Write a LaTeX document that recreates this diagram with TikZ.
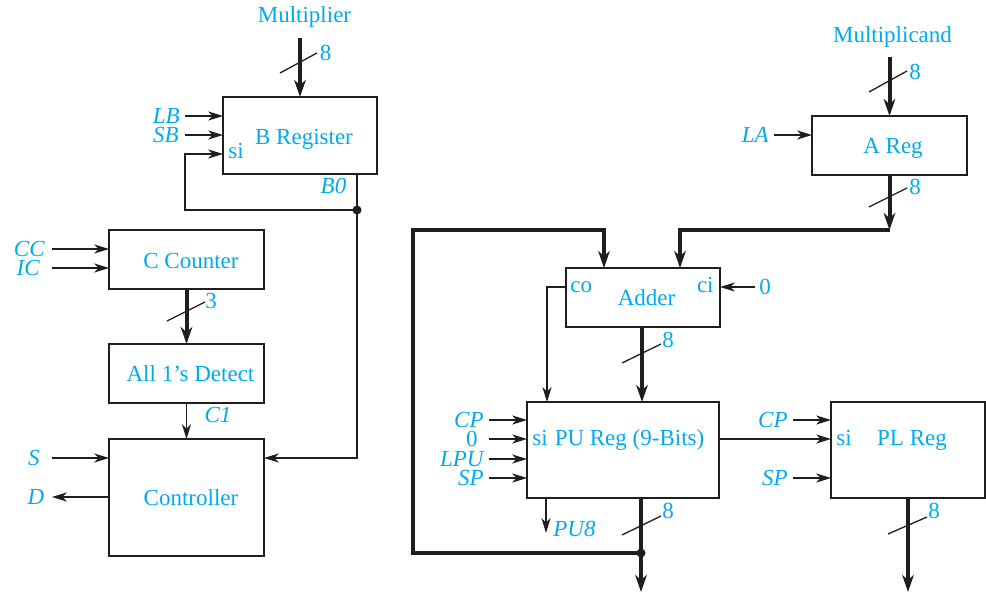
\documentclass[tikz,border=0pt]{standalone}
\usepackage{fontspec}
\setmainfont{Liberation Serif}
\usetikzlibrary{arrows.meta,calc}
\definecolor{txt}{RGB}{0,170,236}
\definecolor{ink}{RGB}{30,30,30}
\begin{document}
\begin{tikzpicture}[x=0.5pt,y=-0.5pt,
  box/.style={draw=ink,line width=1pt,inner sep=0pt,outer sep=0pt},
  lbl/.style={text=txt,font=\fontsize{11.5}{13}\selectfont,inner sep=0pt},
  ilbl/.style={lbl,font=\fontsize{11.5}{13}\selectfont\itshape},
  arr/.style={draw=ink,line width=0.65pt,-{Stealth[length=7.5pt,width=4.6pt,inset=2.4pt]}},
  thinline/.style={draw=ink,line width=0.65pt},
  bus/.style={draw=ink,line width=2pt,-{Stealth[length=8.5pt,width=5.8pt,inset=2.6pt]}},
  busline/.style={draw=ink,line width=2pt},
  slash/.style={draw=ink,line width=0.65pt},
  dotst/.style={fill=ink,circle,inner sep=0pt,minimum size=4.5pt}]
\useasboundingbox (0,0) rectangle (986,594);

% ---------- boxes ----------
\node[box,minimum width=77pt,minimum height=38.5pt] (breg) at (300,135.5) {};
\node[box,minimum width=77.5pt,minimum height=29.5pt] (ccnt) at (186.5,259.5) {};
\node[box,minimum width=77.5pt,minimum height=29.5pt] (all1) at (186.5,373.5) {};
\node[box,minimum width=77.5pt,minimum height=58.5pt] (ctrl) at (186.5,497.5) {};
\node[box,minimum width=77.5pt,minimum height=29.5pt] (areg) at (889.5,145.5) {};
\node[box,minimum width=77pt,minimum height=29.5pt] (adder) at (643,297.5) {};
\node[box,minimum width=96pt,minimum height=48pt] (pureg) at (623,450) {};
\node[box,minimum width=77pt,minimum height=48pt] (plreg) at (908,450) {};

% ---------- box texts ----------
\node[lbl,anchor=base] (tbreg) at (304,144) {B Register};
\node[lbl,anchor=base] (tccnt) at (191,268) {C Counter};
\node[lbl,anchor=base] (tall1) at (190.5,381) {All 1’s Detect};
\node[lbl,anchor=base] (tctrl) at (191,505) {Controller};
\node[lbl,anchor=base] (tareg) at (893,153) {A Reg};
\node[lbl,anchor=base] (tadder) at (646.5,305) {Adder};
\node[lbl,anchor=base] (tpureg) at (629.5,445) {PU Reg (9-Bits)};
\node[lbl,anchor=base] (tplreg) at (912,445) {PL Reg};
\node[lbl,anchor=base west] (sib) at (228,158) {si};
\node[lbl,anchor=base west] (co) at (570,292) {co};
\node[lbl,anchor=base east] (ci) at (714,292) {ci};
\node[lbl,anchor=base west] (sipu) at (532,445) {si};
\node[lbl,anchor=base west] (sipl) at (836,445) {si};

% ---------- top inputs ----------
\node[lbl,anchor=base] (mpl) at (304.5,23) {Multiplier};
\coordinate (mplin) at (300,38);
\draw[bus] (mplin) -- (breg.north);
\draw[slash] (280,73) -- (317,53);
\node[lbl,anchor=base] (n8a) at (325.5,61) {8};

\node[lbl,anchor=base] (mcd) at (892.5,42) {Multiplicand};
\coordinate (mcdin) at (889.5,57);
\draw[bus] (mcdin) -- (areg.north);
\draw[slash] (869,92) -- (907,71);
\node[lbl,anchor=base] (n8b) at (915,79) {8};

% ---------- B register ----------
\node[ilbl,anchor=east] (LB) at (180,116) {LB};
\node[ilbl,anchor=east] (SB) at (179,135) {SB};
\draw[arr] (LB.east -| 185,0) -- (breg.west |- LB.east);
\draw[arr] (SB.east -| 185,0) -- (breg.west |- SB.east);
\coordinate (j1) at (357,210);
\coordinate (fb) at (185,154);
\draw[arr] (j1) -| (fb) -- (breg.west |- fb);
\draw[arr] (breg.south -| j1) |- (ctrl.east |- 0,458);
\node[dotst] (d1) at (j1) {};
\node[ilbl,anchor=base] (B0) at (333.5,193) {B0};

% ---------- C counter / detect / controller ----------
\node[ilbl,anchor=east] (CC) at (45,249) {CC};
\node[ilbl,anchor=east] (IC) at (40,268) {IC};
\draw[arr] (CC.east -| 52,0) -- (ccnt.west |- CC.east);
\draw[arr] (IC.east -| 52,0) -- (ccnt.west |- IC.east);
\draw[bus] (ccnt.south) -- (all1.north);
\draw[slash] (167,321) -- (205,302);
\node[lbl,anchor=base] (n3) at (211,308) {3};
\draw[arr] (all1.south) -- (ctrl.north);
\node[ilbl,anchor=base] (C1) at (218,422) {C1};
\node[ilbl] (S) at (34,458) {S};
\node[ilbl] (D) at (36,497) {D};
\draw[arr] (S.east -| 52,0) -- (ctrl.west |- S.east);
\draw[arr] (ctrl.west |- D.east) -- (D.east -| 52,0);

% ---------- A register ----------
\node[ilbl,anchor=east] (LA) at (769,135) {LA};
\draw[arr] (LA.east -| 774,0) -- (areg.west |- LA.east);
\coordinate (ac) at (889.5,230);
\draw[bus] (areg.south) -- (ac);
\draw[busline] (ac) -- (680,230) -- (680,262);
\draw[bus] (680,250) -- (adder.north -| 680,0);
\draw[slash] (869,207) -- (907,188);
\node[lbl,anchor=base] (n8c) at (915,194) {8};

% ---------- loop from PU output ----------
\coordinate (j2) at (641,553);
\draw[busline] (j2) -- (413,553) -- (413,230) -- (604,230) -- (604,262);
\draw[bus] (604,250) -- (adder.north -| 604,0);

% ---------- adder ----------
\node[lbl] (zero) at (765,287) {0};
\draw[arr] (zero.west -| 755,0) -- (adder.east |- zero.west);
\draw[arr] (adder.west |- 0,287) -| (pureg.north -| 547,0);
\draw[bus] (adder.south -| 642,0) -- (pureg.north -| 642,0);
\draw[slash] (622,363) -- (661,344);
\node[lbl,anchor=base] (n8d) at (668,347) {8};

% ---------- PU register ----------
\node[ilbl,anchor=east] (CPa) at (484,420) {CP};
\node[lbl,anchor=east] (Za) at (478,439) {0};
\node[ilbl,anchor=east] (LPU) at (484,459) {LPU};
\node[ilbl,anchor=east] (SPa) at (484,478) {SP};
\draw[arr] (CPa.east -| 489,0) -- (pureg.west |- CPa.east);
\draw[arr] (Za.east -| 489,0) -- (pureg.west |- Za.east);
\draw[arr] (LPU.east -| 489,0) -- (pureg.west |- LPU.east);
\draw[arr] (SPa.east -| 489,0) -- (pureg.west |- SPa.east);
\coordinate (pu8) at (546,533);
\draw[arr] (pureg.south -| pu8) -- (pu8);
\node[ilbl,anchor=base west] (PU8) at (553,536) {PU8};
\coordinate (puout) at (641,592);
\draw[bus] (pureg.south -| puout) -- (puout);
\node[dotst] (d2) at (j2) {};
\draw[slash] (622,535) -- (661,516);
\node[lbl,anchor=base] (n8e) at (668,518) {8};
\draw[arr] (pureg.east |- 0,439) -- (plreg.west |- 0,439);

% ---------- PL register ----------
\node[ilbl,anchor=east] (CPb) at (788,420) {CP};
\node[ilbl,anchor=east] (SPb) at (788,478) {SP};
\draw[arr] (CPb.east -| 793,0) -- (plreg.west |- CPb.east);
\draw[arr] (SPb.east -| 793,0) -- (plreg.west |- SPb.east);
\coordinate (plout) at (908,592);
\draw[bus] (plreg.south -| plout) -- (plout);
\draw[slash] (888,534) -- (927,517);
\node[lbl,anchor=base] (n8f) at (934,518) {8};
\end{tikzpicture}
\end{document}
